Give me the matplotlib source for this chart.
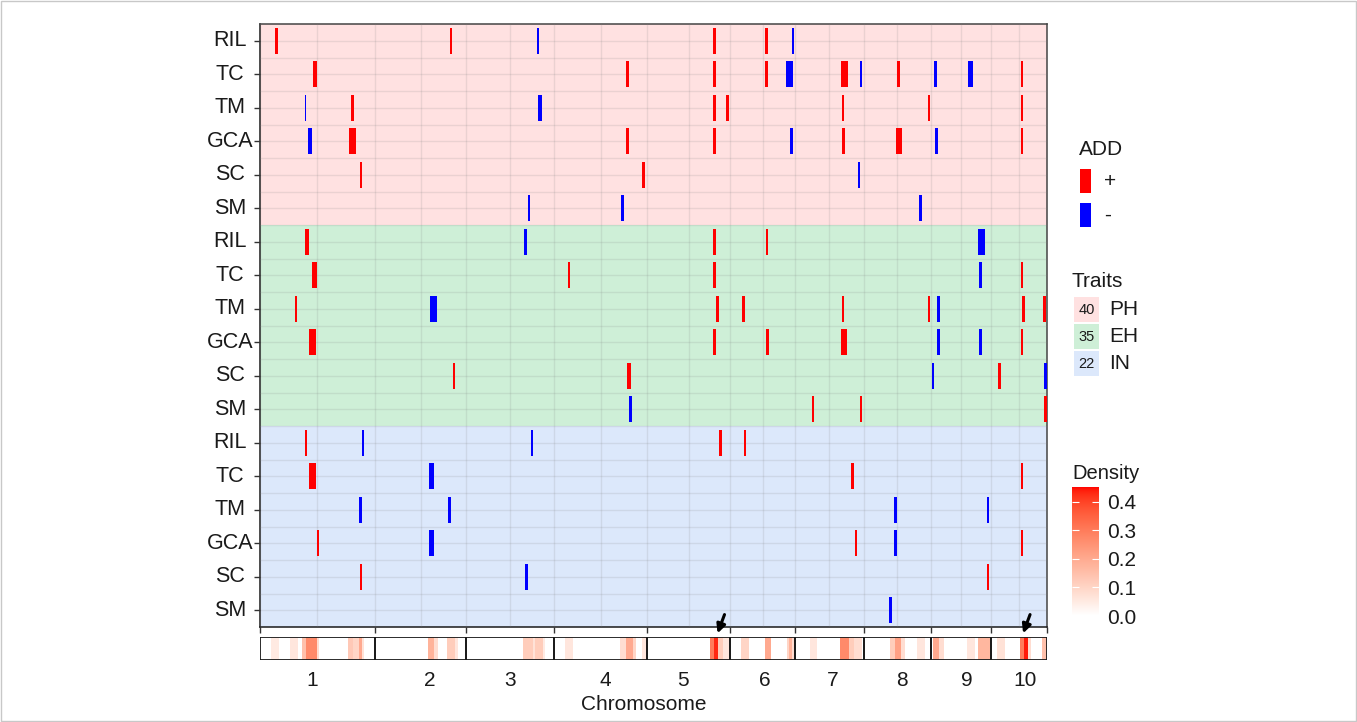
import numpy as np
import matplotlib
matplotlib.use('Agg')
import matplotlib.pyplot as plt
from matplotlib.colors import ListedColormap, Normalize
from matplotlib.cm import ScalarMappable
from matplotlib.patches import Rectangle

plt.rcParams['font.family'] = ['Liberation Sans', 'DejaVu Sans']

# ---------------- data ----------------
chrom_names = ['1', '2', '3', '4', '5', '6', '7', '8', '9', '10']
chrom_len = [307, 244, 235, 247, 223, 174, 182, 181, 159, 150]          # Mb
chrom_label_pos = [138.2, 454.3, 668.1, 922.0, 1130.4, 1349.6, 1528.6,
                   1715.7, 1886.7, 2044.4]                                # cumulative Mb

traits = ['PH', 'EH', 'IN']
trait_counts = [40, 35, 22]
populations = ['RIL', 'TC', 'TM', 'GCA', 'SC', 'SM']

# QTL: (cumulative position Mb, interval width Mb, sign of additive effect)
PH_RIL = [(43.6, 7, 1), (510.4, 7, 1), (742.1, 7, -1), (1213.3, 7, 1), (1352.2, 7, 1), (1423.6, 7, -1)]
PH_TC = [(147.0, 13, 1), (981.6, 7, 1), (1213.3, 7, 1), (1352.2, 7, 1), (1414.5, 18, -1), (1561.5, 19, 1),
         (1605.3, 7, -1), (1705.8, 7, 1), (1803.9, 7, -1), (1896.9, 13, -1), (2035.6, 7, 1)]
PH_TM = [(121.1, 4, -1), (247.7, 7, 1), (747.7, 13, -1), (1213.3, 7, 1), (1248.0, 7, 1), (1557.2, 5, 1),
         (1787.0, 6, 1), (2035.6, 7, 1)]
PH_GCA = [(133.6, 13, -1), (246.7, 18, 1), (981.6, 7, 1), (1213.3, 7, 1), (1419.8, 7, -1), (1558.8, 7, 1),
          (1706.9, 14, 1), (1806.5, 7, -1), (2035.6, 7, 1)]
PH_SC = [(269.9, 7, 1), (1024.3, 7, 1), (1600.0, 7, -1)]
PH_SM = [(718.9, 7, -1), (967.4, 7, -1), (1763.8, 7, -1)]

EH_RIL = [(125.1, 11.5, 1), (709.0, 6, -1), (1213.3, 7, 1), (1354.1, 7, 1), (1927.6, 18, -1)]
EH_TC = [(146.2, 12.5, 1), (825.0, 7, 1), (1213.3, 7, 1), (1924.1, 6, -1), (2035.6, 7, 1)]
EH_TM = [(95.4, 6, 1), (463.1, 19.5, -1), (1222.1, 7, 1), (1290.8, 7, 1), (1557.2, 6, 1), (1787.0, 6, 1),
         (1812.7, 7, -1), (2039.8, 7, 1), (2095.2, 7, 1)]
EH_GCA = [(140.3, 17, 1), (1213.3, 7, 1), (1355.7, 6, 1), (1559.9, 16, 1), (1812.7, 7, -1), (1924.1, 7, -1),
          (2035.6, 7, 1)]
EH_SC = [(518.4, 6, 1), (984.8, 11.5, 1), (1798.5, 6, -1), (1974.9, 6, 1), (2100.0, 12, -1)]
EH_SM = [(989.6, 6, -1), (1477.0, 7, 1), (1605.3, 7, 1), (2100.0, 12, 1)]

IN_RIL = [(122.9, 6, 1), (274.5, 6, -1), (726.1, 6, -1), (1229.3, 7, 1), (1295.3, 7, 1)]
IN_TC = [(140.3, 17, 1), (457.5, 13, -1), (1582.1, 7, 1), (2035.6, 7, 1)]
IN_TM = [(268.0, 7, -1), (505.9, 7, -1), (1697.8, 7, -1), (1944.7, 4, -1)]
IN_GCA = [(155.0, 7, 1), (457.5, 13, -1), (1591.9, 7, 1), (1697.8, 7, -1), (2035.6, 7, 1)]
IN_SC = [(269.9, 6, 1), (711.7, 7, -1), (1944.7, 7, 1)]
IN_SM = [(1684.4, 7, -1)]

qtl_rows = [PH_RIL, PH_TC, PH_TM, PH_GCA, PH_SC, PH_SM,
            EH_RIL, EH_TC, EH_TM, EH_GCA, EH_SC, EH_SM,
            IN_RIL, IN_TC, IN_TM, IN_GCA, IN_SC, IN_SM]

# QTL density along the genome (cumulative Mb)
dens_start = [29.4, 81.0, 112.2, 122.9, 151.5, 234.4, 247.7, 263.8, 272.6,
              448.2, 465.8, 499.7, 521.1,
              703.6, 728.8, 735.7, 755.5,
              815.9, 960.2, 978.1, 996.0, 1020.1,
              1202.6, 1211.4, 1223.2, 1235.5,
              1285.4, 1347.7, 1407.5, 1413.7, 1421.7,
              1469.8, 1550.0, 1572.2, 1585.5,
              1683.6, 1695.1, 1713.0, 1754.9,
              1796.6, 1812.7, 1888.6, 1917.9,
              1968.8, 2031.0, 2039.8, 2051.6, 2089.0]
dens_end = [50.0, 100.7, 122.9, 151.5, 158.5, 247.7, 263.8, 272.6, 278.7,
            465.8, 474.9, 521.1, 529.9,
            728.8, 735.7, 755.5, 762.4,
            835.7, 978.1, 996.0, 1004.8, 1029.7,
            1211.4, 1223.2, 1235.5, 1253.4,
            1304.9, 1365.6, 1413.7, 1421.7, 1429.7,
            1487.7, 1572.2, 1585.5, 1608.0,
            1695.1, 1713.0, 1723.7, 1777.1,
            1812.7, 1826.1, 1910.8, 1952.0,
            1989.1, 2039.8, 2051.6, 2060.4, 2102.0]
dens_value = [0.05, 0.06, 0.15, 0.27, 0.08, 0.13, 0.10, 0.20, 0.07,
              0.18, 0.08, 0.12, 0.06,
              0.12, 0.07, 0.12, 0.05,
              0.06, 0.08, 0.20, 0.10, 0.06,
              0.30, 0.43, 0.12, 0.06,
              0.10, 0.20, 0.10, 0.18, 0.08,
              0.06, 0.27, 0.12, 0.08,
              0.12, 0.22, 0.08, 0.06,
              0.20, 0.08, 0.06, 0.17,
              0.07, 0.30, 0.44, 0.08, 0.15]

arrow_pos = [1222.1, 2038.2]

# ---------------- style ----------------
W, H, DPI = 1357, 722, 100
RED, BLUE = '#FF0000', '#0000FF'
trait_bg = ['#FFE1E1', '#CEEFD7', '#DCE8FB']


def lab_to_rgb(L, a, b):
    fy = (L + 16) / 116.0
    fx = fy + a / 500.0
    fz = fy - b / 200.0

    def finv(t):
        return np.where(t ** 3 > 0.008856, t ** 3, (t - 16 / 116.0) / 7.787)
    X = 0.95047 * finv(fx)
    Y = finv(fy)
    Z = 1.08883 * finv(fz)
    r = 3.2406 * X - 1.5372 * Y - 0.4986 * Z
    g = -0.9689 * X + 1.8758 * Y + 0.0415 * Z
    bb = 0.0557 * X - 0.2040 * Y + 1.0570 * Z
    rgb = np.clip(np.stack([r, g, bb], -1), 0, 1)
    rgb = np.where(rgb <= 0.0031308, 12.92 * rgb, 1.055 * rgb ** (1 / 2.4) - 0.055)
    return np.clip(rgb, 0, 1)


tt = np.linspace(0, 1, 256)
cmap = ListedColormap(lab_to_rgb(100 + tt * (53.24 - 100), tt * 80.09, tt * 67.20))
norm = Normalize(0, 0.452)


def fxp(px):
    return px / W


def fyp(py):
    return 1 - py / H


fig = plt.figure(figsize=(W / DPI, H / DPI), dpi=DPI)

total = float(np.sum(chrom_len))
bounds = np.concatenate([[0], np.cumsum(chrom_len)])
mids = (bounds[:-1] + bounds[1:]) / 2

# ---------------- main panel ----------------
ax = fig.add_axes([fxp(260), fyp(627), (1047 - 260) / W, (627 - 24) / H])
ax.set_xlim(0, total)
ax.set_ylim(17.5, -0.5)
for k in range(3):
    ax.axhspan(6 * k - 0.5, 6 * k + 5.5, color=trait_bg[k], lw=0, zorder=0.5)

ax.set_xticks(bounds)
ax.set_xticks(mids, minor=True)
ax.set_yticks(np.arange(18))
ax.set_yticks(np.arange(0.5, 17, 1), minor=True)
ax.set_axisbelow(False)
ax.grid(True, which='both', color='#808080', alpha=0.16, lw=1.0)
ax.tick_params(axis='both', which='minor', length=0)
ax.tick_params(axis='both', which='major', length=4, width=1, color='#333333',
               labelbottom=False, labelleft=False)

for i, row in enumerate(qtl_rows):
    pos = np.array([q[0] for q in row])
    wid = np.array([q[1] for q in row])
    sgn = np.array([q[2] for q in row])
    cols = [RED if s > 0 else BLUE for s in sgn]
    ax.barh(np.full(len(pos), i), wid, left=pos - wid / 2, height=0.78,
            color=cols, lw=0, zorder=3)

for i in range(18):
    ax.text(-0.0381, i, populations[i % 6], transform=ax.get_yaxis_transform(),
            ha='center', va='center', fontsize=15.5, color='#1a1a1a')

for s in ['left', 'bottom']:
    ax.spines[s].set_color('#1a1a1a')
    ax.spines[s].set_linewidth(1.1)
for s in ['top', 'right']:
    ax.spines[s].set_color('#444444')
    ax.spines[s].set_linewidth(1.1)

# ---------------- density strip ----------------
axd = fig.add_axes([fxp(260), fyp(660), (1047 - 260) / W, (660 - 637) / H])
axd.set_xlim(0, total)
axd.set_ylim(0, 1)
ds = np.array(dens_start)
de = np.array(dens_end)
dv = np.array(dens_value)
axd.barh(np.full(len(ds), 0.5), de - ds, left=ds, height=1,
         color=cmap(norm(dv)), lw=0, zorder=1)
axd.barh(np.full(len(chrom_len), 0.5), chrom_len, left=bounds[:-1], height=1,
         facecolor='none', edgecolor='#1a1a1a', lw=1.3, zorder=2)
for s in axd.spines.values():
    s.set_visible(False)
axd.set_yticks([])
axd.set_xticks(chrom_label_pos)
axd.set_xticklabels(chrom_names)
axd.tick_params(axis='x', length=0, labelsize=15, pad=8, labelcolor='#1a1a1a')

for xp in arrow_pos:
    axd.annotate('', xy=(xp, 1.16), xycoords='data',
                 xytext=(5.0, 13.5), textcoords='offset points',
                 arrowprops=dict(arrowstyle='-|>', lw=2.2, color='black',
                                 mutation_scale=13, shrinkA=0, shrinkB=0),
                 annotation_clip=False)

fig.text(fxp(644), fyp(705), 'Chromosome', ha='center', va='center',
         fontsize=15, color='#1a1a1a')

# ---------------- legends ----------------
fig.text(fxp(1079), fyp(155), 'ADD', ha='left', va='baseline', fontsize=15, color='#1a1a1a')
add_cols = [RED, BLUE]
add_labels = ['+', '-']
add_top = [169.3, 203.3]
for c, lab, t in zip(add_cols, add_labels, add_top):
    fig.patches.append(Rectangle((fxp(1080), fyp(t + 24)), 10.7 / W, 24 / H,
                                 transform=fig.transFigure, facecolor=c, lw=0))
    fig.text(fxp(1104), fyp(t + 12), lab, ha='left', va='center', fontsize=15, color='#1a1a1a')

fig.text(fxp(1071), fyp(286.7), 'Traits', ha='left', va='baseline', fontsize=15, color='#1a1a1a')
trait_top = [296.7, 324.0, 350.7]
for k in range(3):
    t = trait_top[k]
    fig.patches.append(Rectangle((fxp(1074.3), fyp(t + 25)), 25 / W, 25 / H,
                                 transform=fig.transFigure, facecolor=trait_bg[k], lw=0))
    fig.text(fxp(1086.8), fyp(t + 13), str(trait_counts[k]), ha='center', va='center',
             fontsize=10.5, color='#1a1a1a')
    fig.text(fxp(1109), fyp(t + 12.5), traits[k], ha='left', va='center',
             fontsize=15, color='#1a1a1a')

fig.text(fxp(1072.5), fyp(479.3), 'Density', ha='left', va='baseline', fontsize=14.5, color='#1a1a1a')
cax = fig.add_axes([fxp(1072), fyp(616), 27 / W, (616 - 486.7) / H])
cb = fig.colorbar(ScalarMappable(norm=norm, cmap=cmap), cax=cax)
cb.set_ticks([0.0, 0.1, 0.2, 0.3, 0.4])
cb.set_ticklabels(['0.0', '0.1', '0.2', '0.3', '0.4'])
cb.outline.set_visible(False)
cax.yaxis.set_ticks_position('both')
cax.tick_params(direction='in', length=5, width=0.8, color='white',
                labelsize=15, pad=6, labelcolor='#1a1a1a', labelleft=False, labelright=True)

fig.patches.append(Rectangle((0.001, 0.001), 0.998, 0.998, transform=fig.transFigure,
                             fill=False, edgecolor='#c8c8c8', lw=1.0))

fig.savefig('out.png', dpi=DPI)
